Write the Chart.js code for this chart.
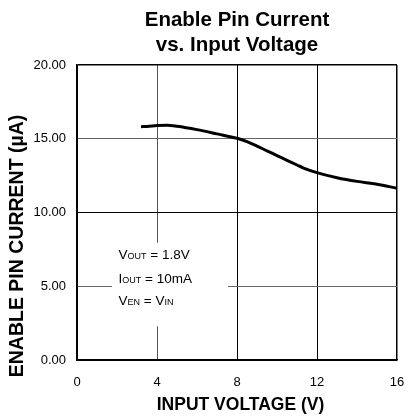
<!DOCTYPE html>
<html>
<head>
<meta charset="utf-8">
<script src="https://cdn.jsdelivr.net/npm/chart.js@4/dist/chart.umd.min.js"></script>
<style>
html,body{margin:0;padding:0;background:#fff;}
#wrap{width:406px;height:420px;position:relative;}
</style>
</head>
<body>
<div id="wrap"><canvas id="c" width="406" height="420"></canvas></div>
<script>
const titleLines = ['Enable Pin Current', 'vs. Input Voltage'];
const xAxisTitle = 'INPUT VOLTAGE (V)';
const yAxisTitle = 'ENABLE PIN CURRENT (\u00B5A)';
const inputVoltage = [3.2, 3.5, 4.0, 4.5, 5.0, 6.0, 7.0, 8.0, 8.5, 9.0, 9.5, 10.0, 10.5, 11.0, 11.3, 12.0, 13.0, 14.0, 15.0, 16.0];
const enableCurrent = [15.82, 15.83, 15.90, 15.92, 15.85, 15.62, 15.33, 15.03, 14.80, 14.50, 14.18, 13.86, 13.54, 13.22, 13.03, 12.70, 12.36, 12.11, 11.92, 11.64];
const xTicks = [0, 4, 8, 12, 16];
const yTicks = [0, 5, 10, 15, 20];
const noteLines = [
  [['V', false], ['OUT', true], [' = 1.8V', false]],
  [['I', false], ['OUT', true], [' = 10mA', false]],
  [['V', false], ['EN', true], [' = V', false], ['IN', true]]
];

const FONT = "Arial, 'Liberation Sans', Helvetica, sans-serif";

const notePlugin = {
  id: 'note',
  afterDatasetsDraw(chart) {
    const ctx = chart.ctx;
    const xs = chart.scales.x, ys = chart.scales.y;
    const left = xs.getPixelForValue(1.75), right = xs.getPixelForValue(7.55);
    const top = ys.getPixelForValue(7.95), bottom = ys.getPixelForValue(2.28);
    ctx.save();
    ctx.fillStyle = '#fff';
    ctx.fillRect(left, top, right - left, bottom - top);
    ctx.fillStyle = '#000';
    ctx.textBaseline = 'alphabetic';
    ctx.textAlign = 'left';
    const x0 = left + 6.5;
    const baselines = [262.7, 286, 308.3].map(v => v - 246 + top);
    noteLines.forEach((parts, i) => {
      let x = x0;
      parts.forEach(([t, sub]) => {
        ctx.font = (sub ? '9px ' : '13.5px ') + FONT;
        ctx.fillText(t, x, baselines[i]);
        x += ctx.measureText(t).width;
      });
    });
    ctx.restore();
  }
};

const textPlugin = {
  id: 'texts',
  afterDraw(chart) {
    const ctx = chart.ctx;
    const ca = chart.chartArea;
    ctx.save();
    ctx.fillStyle = '#000';
    ctx.textAlign = 'center';
    ctx.textBaseline = 'middle';
    ctx.font = 'bold 20.5px ' + FONT;
    const cx = (ca.left + ca.right) / 2;
    titleLines.forEach((t, i) => ctx.fillText(t, cx, 20.5 + i * 24.6));
    ctx.font = 'bold 17.5px ' + FONT;
    ctx.fillText(xAxisTitle, cx + 3.5, ca.bottom + 45);
    ctx.translate(16.7, 246);
    ctx.rotate(-Math.PI / 2);
    ctx.font = 'bold 19.5px ' + FONT;
    ctx.fillText(yAxisTitle, 0, 1);
    ctx.restore();
  }
};

const gridColorFor = v => (v === 5 || v === 15) ? '#666' : '#000';
const xGridColorFor = v => (v === 4) ? '#555' : '#000';

new Chart(document.getElementById('c'), {
  type: 'line',
  data: {
    datasets: [{
      data: inputVoltage.map((x, i) => ({ x, y: enableCurrent[i] })),
      borderColor: '#000',
      borderWidth: 3,
      pointRadius: 0,
      cubicInterpolationMode: 'monotone',
      fill: false
    }]
  },
  options: {
    responsive: false,
    animation: false,
    devicePixelRatio: 1,
    layout: { padding: { left: 0, right: 9, top: 65, bottom: 0 } },
    plugins: {
      legend: { display: false },
      tooltip: { enabled: false },
      title: { display: false }
    },
    scales: {
      x: {
        type: 'linear',
        min: 0, max: 16,
        afterBuildTicks: s => { s.ticks = xTicks.map(v => ({ value: v })); },
        afterFit: s => { s.height = 60; },
        ticks: { color: '#000', font: { family: FONT, size: 13 }, padding: 0 },
        grid: {
          drawTicks: true,
          tickLength: 15,
          tickColor: 'rgba(0,0,0,0)',
          color: c => xGridColorFor(c.tick.value),
          lineWidth: c => c.tick.value === 16 ? 1.5 : 1
        },
        border: { display: true, color: '#000', width: 1.5 },
        title: { display: false }
      },
      y: {
        type: 'linear',
        min: 0, max: 20,
        afterBuildTicks: s => { s.ticks = yTicks.map(v => ({ value: v })); },
        afterFit: s => { s.width = 77; },
        ticks: {
          color: '#000', font: { family: FONT, size: 13 }, padding: 11,
          callback: v => Number(v).toFixed(2)
        },
        grid: {
          drawTicks: false,
          color: c => gridColorFor(c.tick.value),
          lineWidth: c => c.tick.value === 20 ? 1.5 : 1
        },
        border: { display: true, color: '#000', width: 1.5 },
        title: { display: false }
      }
    }
  },
  plugins: [notePlugin, textPlugin]
});
</script>
</body>
</html>
